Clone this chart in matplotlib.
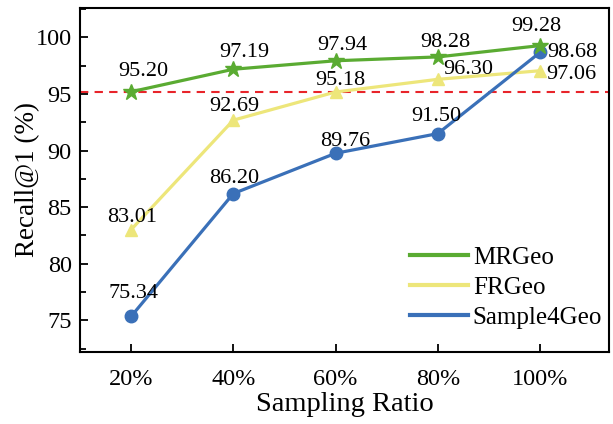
import numpy as np
import matplotlib.pyplot as plt
from matplotlib.ticker import MultipleLocator

# donnees
ratio = [20, 40, 60, 80, 100]
ratio_labels = ['20%', '40%', '60%', '80%', '100%']
mrgeo = [95.20, 97.19, 97.94, 98.28, 99.28]
frgeo = [83.01, 92.69, 95.18, 96.30, 97.06]
sample4geo = [75.34, 86.20, 89.76, 91.50, 98.68]
baseline = 95.20

# decalages des etiquettes (pixels)
off_mr = [(12, 20), (11, 17), (7, 15), (8, 14), (-4, 19)]
off_fr = [(1, 12), (1, 14), (5, 11), (30, 10), (31, -4)]
off_s4 = [(2, 23), (1, 15), (10, 12), (-1, 17), (32, 0)]

plt.rcParams['font.family'] = ['Liberation Serif', 'DejaVu Serif']

fig = plt.figure(figsize=(6.13, 4.24), dpi=100)
ax = fig.add_axes([0.1305, 0.170, 0.863, 0.811])

ax.axhline(baseline, color='#e8242a', ls=(0, (4, 3)), lw=1.5, zorder=1)

ax.plot(ratio, mrgeo, '-', color='#5aab32', lw=2.3, marker='*', ms=12, label='MRGeo', zorder=3)
ax.plot(ratio, frgeo, '-', color='#ede67a', lw=2.3, marker='^', ms=9, label='FRGeo', zorder=2)
ax.plot(ratio, sample4geo, '-', color='#3a70b8', lw=2.3, marker='o', ms=9, label='Sample4Geo', zorder=2)

for ys, offs in [(mrgeo, off_mr), (frgeo, off_fr), (sample4geo, off_s4)]:
    for x, y, o in zip(ratio, ys, offs):
        ax.annotate('%.2f' % y, (x, y), xytext=o, textcoords='offset pixels',
                    ha='center', va='center', fontsize=16)

ax.set_xlim(10, 113.5)
ax.set_ylim(72.2, 102.6)
ax.set_xticks(ratio)
ax.set_xticklabels(ratio_labels)
ax.yaxis.set_major_locator(MultipleLocator(5))
ax.yaxis.set_minor_locator(MultipleLocator(2.5))
ax.tick_params(direction='in', labelsize=17.5, width=1.3, length=6)
ax.tick_params(axis='x', pad=12)
ax.tick_params(axis='y', pad=6)
ax.tick_params(which='minor', direction='in', width=1.3, length=4)
for s in ax.spines.values():
    s.set_linewidth(1.5)

ax.set_xlabel('Sampling Ratio', fontsize=20.5, labelpad=2)
ax.set_ylabel('Recall@1 (%)', fontsize=19.5, labelpad=-3)

leg = ax.legend(loc='lower right', bbox_to_anchor=(1.013, 0.027), frameon=False,
                fontsize=18, handlelength=2.3, handletextpad=0.2,
                labelspacing=0.3, borderaxespad=0.15)
for h in leg.legend_handles:
    h.set_marker('')
    h.set_linewidth(3)

plt.savefig('out.png', dpi=100)
